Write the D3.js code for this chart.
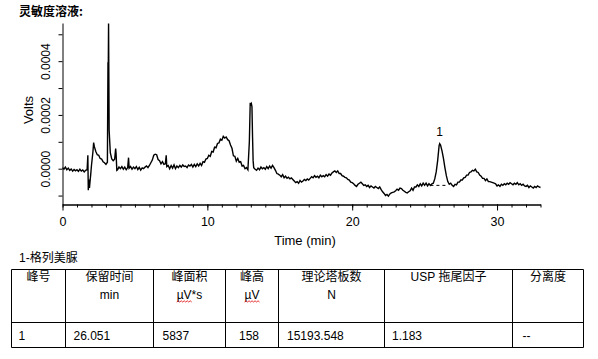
<!DOCTYPE html>
<html>
<head>
<meta charset="utf-8">
<script src="https://cdn.jsdelivr.net/npm/d3@7"></script>
<style>
  html, body { margin: 0; padding: 0; background: #fff; }
  svg { display: block; }
  text { font-family: "Liberation Sans", Arial, "Noto Sans CJK SC", sans-serif; fill: #000; }
</style>
</head>
<body>
<svg id="chart" width="598" height="359"></svg>
<script>
// ---------------- DATA ----------------
const chartTitle = "灵敏度溶液:";
const xAxisTitle = "Time (min)";
const yAxisTitle = "Volts";

// detector trace sampled every 0.1 min from 0 to 33 min (µV)
const sampleStep = 0.1;
const signalUV = [
  4, -2, 6, -4, 2, -6, -1, -9, -3, -8,
  -4, -10, -2, -9, -5, -12, -6, -3, -62, -48,
  12, 62, 82, 64, 52, 50, 38, 36, 26, 22,
  16, 24, 340, 60, 36, 30, 35, 55, -4, 6,
  0, 8, -2, 6, -4, 4, 2, 8, -2, 6,
  0, 8, -3, 5, -5, 3, 0, 6, 10, 4,
  12, 22, 32, 50, 54, 52, 34, 30, 18, 26,
  16, 18, 8, 12, 0, 12, 2, 14, 0, 10,
  4, 12, 6, 14, 8, 10, 4, 14, 10, 16,
  6, 16, 8, 18, 10, 20, 12, 26, 24, 36,
  38, 50, 46, 64, 62, 80, 78, 94, 96, 110,
  106, 120, 114, 118, 108, 104, 88, 76, 48, 46,
  28, 38, 24, 26, 10, 12, 0, 4, -4, 100,
  238, 175, 4, -2, -6, 2, -4, 6, 0, 4,
  -2, 8, 0, 10, 2, 12, 4, -6, -18, -20,
  -24, -30, -22, -34, -28, -36, -32, -38, -34, -40,
  -46, -52, -48, -54, -44, -50, -46, -40, -44, -38,
  -42, -36, -30, -34, -26, -32, -28, -34, -24, -30,
  -26, -30, -22, -28, -20, -24, -16, -12, -8, -14,
  -8, -18, -18, -26, -28, -32, -34, -40, -42, -50,
  -52, -56, -62, -66, -58, -54, -50, -56, -62, -60,
  -66, -62, -70, -64, -68, -72, -66, -70, -74, -68,
  -78, -86, -92, -100, -96, -102, -94, -90, -88, -86,
  -82, -76, -80, -72, -74, -80, -84, -88, -90, -86,
  -82, -72, -80, -68, -68, -60, -66, -56, -64, -54,
  -62, -54, -64, -56, -62, -56, -54, -38, -12, 30,
  86, 88, 66, 38, 4, -26, -48, -58, -54, -62,
  -66, -58, -60, -50, -50, -42, -42, -34, -32, -24,
  -24, -14, -12, -6, -8, -2, -12, -14, -24, -28,
  -36, -36, -44, -38, -48, -48, -50, -52, -54, -56,
  -64, -60, -66, -58, -62, -56, -60, -54, -58, -52,
  -56, -60, -54, -58, -52, -60, -56, -62, -58, -64,
  -66, -62, -70, -64, -68, -72, -66, -70, -64, -68,
  -70
];

// extra samples on the sharp spikes (min, µV)
const spikeTime = [1.75, 1.78, 1.82, 1.86, 1.95, 2.15, 3.14, 3.16, 3.18, 3.22, 3.67, 3.75, 4.56, 7.16, 12.96, 13.04, 13.08, 13.12, 13.16, 26.04];
const spikeUV   = [50, -80, -40, -72, -20, 97, 396, 370, 540, 143, 75, -6, 41, 50, 245, 242, 230, 120, 30, 93];

// integrated peak
const peakLabels = ["1"];
const peakTimes = [26.04];
const peakApexUV = [93];
const baselineTime = [25.4, 26.55];
const baselineUV = [-62, -62];

// axes
const xDomain = [0, 33];
const yDomainV = [-0.0001332, 0.000542];
const xMajorTicks = [0, 10, 20, 30];
const xMinorTicks = d3.range(0, 34, 1);
const yTickValues = [-0.0001, 0, 0.0001, 0.0002, 0.0003, 0.0004, 0.0005];
const yLabelValues = [0, 0.0002, 0.0004];

// table
const tableCaption = "1-格列美脲";
const headerLine1 = ["峰号", "保留时间", "峰面积", "峰高", "理论塔板数", "USP 拖尾因子", "分离度"];
const headerLine2 = ["", "min", "µV*s", "µV", "N", "", ""];
const rowValues = ["1", "26.051", "5837", "158", "15193.548", "1.183", "--"];
const spellFlagged = ["", "", "µV", "µV", "", "", ""];

// ---------------- LAYOUT ----------------
const svg = d3.select("#chart");
const plot = { left: 62.5, right: 540.5, top: 23, bottom: 204.5 };

const x = d3.scaleLinear().domain(xDomain).range([plot.left, plot.right]);
const y = d3.scaleLinear().domain(yDomainV).range([plot.bottom, plot.top]);

// title
svg.append("text")
  .attr("x", 19).attr("y", 15.5)
  .style("font-family", "'Noto Sans CJK SC', sans-serif")
  .style("font-size", "12px").style("font-weight", "bold")
  .text(chartTitle);

// trace
const points = signalUV.map((v, i) => [+(i * sampleStep).toFixed(2), v])
  .concat(spikeTime.map((t, i) => [t, spikeUV[i]]))
  .sort((a, b) => a[0] - b[0]);

const line = d3.line().x(d => x(d[0])).y(d => y(d[1] * 1e-6));
svg.append("path")
  .datum(points)
  .attr("d", line)
  .attr("fill", "none")
  .attr("stroke", "#000")
  .attr("stroke-width", 1.4)
  .attr("stroke-linejoin", "miter");

// dashed peak baseline
svg.append("path")
  .datum(baselineTime.map((t, i) => [t, baselineUV[i]]))
  .attr("d", line)
  .attr("fill", "none")
  .attr("stroke", "#000")
  .attr("stroke-width", 1)
  .attr("stroke-dasharray", "3,3");

// peak labels
svg.selectAll("text.peak")
  .data(peakLabels)
  .join("text")
  .attr("class", "peak")
  .attr("x", (d, i) => x(peakTimes[i]))
  .attr("y", (d, i) => y(peakApexUV[i] * 1e-6) - 8)
  .attr("text-anchor", "middle")
  .style("font-size", "12px")
  .text(d => d);

// x axis (minor + major)
const gxMinor = svg.append("g")
  .attr("transform", `translate(0,${plot.bottom})`)
  .call(d3.axisBottom(x).tickValues(xMinorTicks).tickSize(3).tickSizeOuter(0).tickFormat(""));
const gx = svg.append("g")
  .attr("transform", `translate(0,${plot.bottom})`)
  .call(d3.axisBottom(x).tickValues(xMajorTicks).tickSize(6).tickSizeOuter(0).tickFormat(d3.format("d")));
gx.selectAll("text")
  .attr("y", 21.5).attr("dy", null)
  .style("font-size", "12.5px")
  .style("font-family", "'Liberation Sans', Arial, sans-serif");
[gxMinor, gx].forEach(g => {
  g.selectAll("line").attr("stroke", "#000");
  g.select(".domain").attr("stroke", "#000");
});

// y axis
const gy = svg.append("g")
  .attr("transform", `translate(${plot.left},0)`)
  .call(d3.axisLeft(y).tickValues(yTickValues).tickSize(4).tickSizeOuter(0)
    .tickFormat(d => yLabelValues.some(v => Math.abs(v - d) < 1e-9) ? d3.format(".4f")(d) : ""));
gy.selectAll("line").attr("stroke", "#000");
gy.select(".domain").attr("stroke", "#000");
gy.selectAll("text")
  .attr("x", null).attr("dy", null)
  .attr("text-anchor", "middle")
  .attr("transform", "translate(-13,0) rotate(-90)")
  .style("font-size", "12px")
  .style("font-family", "'Liberation Sans', Arial, sans-serif");

// axis titles
svg.append("text")
  .attr("x", 305).attr("y", 245)
  .attr("text-anchor", "middle")
  .style("font-size", "13px")
  .text(xAxisTitle);
svg.append("text")
  .attr("transform", "translate(33,110) rotate(-90)")
  .attr("text-anchor", "middle")
  .style("font-size", "13px")
  .text(yAxisTitle);

// ---------------- TABLE ----------------
const colEdges = [11.5, 65.5, 153.5, 225.5, 278.5, 384.5, 512.5, 583.5];
const rowEdges = [269.5, 322.5, 347.5];
const cellPad = [7, 8, 9, 13.5, 8.5, 7.5, 10];

svg.append("text")
  .attr("x", 19).attr("y", 262)
  .style("font-size", "12px")
  .text(tableCaption);

const tbl = svg.append("g").attr("stroke", "#000").attr("stroke-width", 1);
rowEdges.forEach(yy => tbl.append("line").attr("x1", colEdges[0]).attr("x2", colEdges[colEdges.length - 1]).attr("y1", yy).attr("y2", yy));
colEdges.forEach(xx => tbl.append("line").attr("x1", xx).attr("x2", xx).attr("y1", rowEdges[0]).attr("y2", rowEdges[rowEdges.length - 1]));

const colCenter = i => (colEdges[i] + colEdges[i + 1]) / 2;

svg.selectAll("text.h1").data(headerLine1).join("text")
  .attr("class", "h1")
  .attr("x", (d, i) => colCenter(i)).attr("y", 281)
  .attr("text-anchor", "middle")
  .style("font-size", "12px")
  .text(d => d);

const h2 = svg.selectAll("text.h2").data(headerLine2).join("text")
  .attr("class", "h2")
  .attr("x", (d, i) => colCenter(i)).attr("y", 299)
  .attr("text-anchor", "middle")
  .style("font-size", "12px")
  .text(d => d);

svg.selectAll("text.cell").data(rowValues).join("text")
  .attr("class", "cell")
  .attr("x", (d, i) => colEdges[i] + cellPad[i]).attr("y", 339.5)
  .style("font-size", "12px")
  .text(d => d);

// red spell-check squiggles under flagged words
h2.each(function (d, i) {
  const flag = spellFlagged[i];
  if (!flag || !d) return;
  const w = this.getComputedTextLength();
  const fw = this.getSubStringLength(0, flag.length);
  const x0 = colCenter(i) - w / 2;
  let p = `M${x0},302`;
  for (let k = 0, xx = x0; xx < x0 + fw; k++) {
    xx += 1.5;
    p += `L${xx},${k % 2 === 0 ? 300.8 : 302}`;
  }
  svg.append("path").attr("d", p).attr("fill", "none").attr("stroke", "#e00000").attr("stroke-width", 0.8);
});
</script>
</body>
</html>
